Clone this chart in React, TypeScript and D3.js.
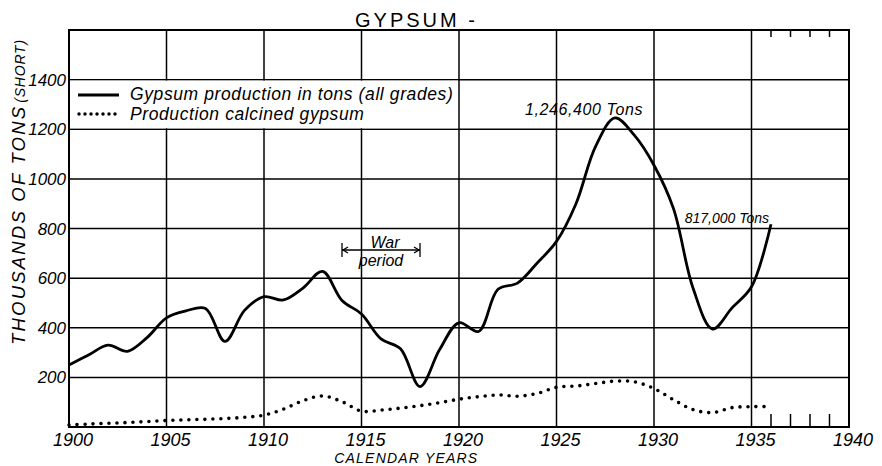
import { useMemo } from "react";
import { scaleLinear, line, curveCatmullRom } from "d3";

const years = [
  1900, 1901, 1902, 1903, 1904, 1905, 1906, 1907, 1908, 1909,
  1910, 1911, 1912, 1913, 1914, 1915, 1916, 1917, 1918, 1919,
  1920, 1921, 1922, 1923, 1924, 1925, 1926, 1927, 1928, 1929,
  1930, 1931, 1932, 1933, 1934, 1935, 1936,
];

// thousands of short tons, all grades
const totalProduction = [
  250, 290, 330, 305, 360, 440, 468, 478, 345, 470,
  525, 512, 560, 627, 510, 455, 355, 315, 163, 311,
  420, 385, 555, 580, 660, 748, 900, 1130, 1246, 1175,
  1055, 880, 560, 395, 480, 565, 817,
];

const calcined = [
  8, 12, 15, 18, 22, 26, 29, 31, 34, 39,
  48, 72, 106, 125, 102, 64, 68, 76, 86, 98,
  112, 122, 129, 124, 135, 160, 165, 175, 185, 182,
  155, 110, 70, 58, 78, 82, 82,
];

const xTicks = [1900, 1905, 1910, 1915, 1920, 1925, 1930, 1935, 1940];
const yTicks = [200, 400, 600, 800, 1000, 1200, 1400];
const minorTicks = [1936, 1937, 1938, 1939];

const W = 882;
const H = 466;
const margin = { top: 30, right: 33, bottom: 39, left: 69 };

const FONT = "'Liberation Sans', Arial, sans-serif";

export default function App() {
  const width = W - margin.left - margin.right;
  const height = H - margin.top - margin.bottom;

  const x = useMemo(() => scaleLinear().domain([1900, 1940]).range([0, width]), [width]);
  const y = useMemo(() => scaleLinear().domain([0, 1600]).range([height, 0]), [height]);

  const mkLine = line<number>()
    .x((_, i) => x(years[i]))
    .y((d) => y(d))
    .curve(curveCatmullRom.alpha(0.5));

  const warL = x(1914);
  const warR = x(1918);
  const warY = 220;

  return (
    <svg width={W} height={H} style={{ position: "absolute", left: 0, top: 0, background: "#fff" }}>
      <text x={355} y={27} fontFamily={FONT} fontSize={20} letterSpacing={3}>
        GYPSUM -
      </text>

      <g transform={`translate(${margin.left},${margin.top})`}>
        {/* grid */}
        {xTicks.slice(1, -1).map((t) => (
          <line key={`vx${t}`} x1={x(t)} x2={x(t)} y1={0} y2={height} stroke="#000" strokeWidth={1.5} />
        ))}
        {yTicks.map((t) => (
          <line key={`hy${t}`} x1={0} x2={width} y1={y(t)} y2={y(t)} stroke="#000" strokeWidth={1.5} />
        ))}
        {minorTicks.map((t) => (
          <g key={`m${t}`}>
            <line x1={x(t)} x2={x(t)} y1={0} y2={7} stroke="#000" strokeWidth={1.5} />
            <line x1={x(t)} x2={x(t)} y1={height} y2={height - 13} stroke="#000" strokeWidth={1.5} />
          </g>
        ))}
        <rect x={0} y={0} width={width} height={height} fill="none" stroke="#000" strokeWidth={2} />

        {/* legend */}
        <rect x={1} y={y(1400) + 1} width={x(1920) - 2} height={y(1200) - y(1400) - 2} fill="#fff" />
        <line x1={9} x2={50} y1={65} y2={65} stroke="#000" strokeWidth={3} />
        <text x={61} y={70} fontFamily={FONT} fontStyle="italic" fontSize={17.5} letterSpacing={0.6}>
          Gypsum production in tons (all grades)
        </text>
        <line x1={10} x2={50} y1={84} y2={84} stroke="#000" strokeWidth={3.5} strokeDasharray="0 6" strokeLinecap="round" />
        <text x={61} y={90} fontFamily={FONT} fontStyle="italic" fontSize={17.5} letterSpacing={0.6}>
          Production calcined gypsum
        </text>

        {/* series */}
        <path d={mkLine(totalProduction) ?? ""} fill="none" stroke="#000" strokeWidth={2.8} strokeLinejoin="round" />
        <path
          d={mkLine(calcined) ?? ""}
          fill="none"
          stroke="#000"
          strokeWidth={3.6}
          strokeDasharray="0 8"
          strokeLinecap="round"
        />

        {/* annotations */}
        <text x={456} y={85} fontFamily={FONT} fontStyle="italic" fontSize={16} letterSpacing={0.6}>
          1,246,400 Tons
        </text>
        <text x={x(1936) - 2} y={193} textAnchor="end" fontFamily={FONT} fontStyle="italic" fontSize={14}>
          817,000 Tons
        </text>

        <g stroke="#000" strokeWidth={1.3} fill="none">
          <line x1={warL} x2={warR} y1={warY} y2={warY} />
          <line x1={warL} x2={warL} y1={warY - 7} y2={warY + 7} />
          <line x1={warR} x2={warR} y1={warY - 7} y2={warY + 7} />
          <polyline points={`${warL + 6},${warY - 3} ${warL + 1},${warY} ${warL + 6},${warY + 3}`} />
          <polyline points={`${warR - 6},${warY - 3} ${warR - 1},${warY} ${warR - 6},${warY + 3}`} />
        </g>
        <text x={(warL + warR) / 2 + 4} y={warY - 2} textAnchor="middle" fontFamily={FONT} fontStyle="italic" fontSize={16}>
          War
        </text>
        <text x={(warL + warR) / 2} y={warY + 16} textAnchor="middle" fontFamily={FONT} fontStyle="italic" fontSize={16}>
          period
        </text>

        {/* axes labels */}
        {yTicks.map((t) => (
          <text key={`yl${t}`} x={-3} y={y(t) + 6} textAnchor="end" fontFamily={FONT} fontStyle="italic" fontSize={17}>
            {t}
          </text>
        ))}
        {xTicks.map((t) => (
          <text key={`xl${t}`} x={x(t) + 4} y={height + 19} textAnchor="middle" fontFamily={FONT} fontStyle="italic" fontSize={18}>
            {t}
          </text>
        ))}
        <text x={x(1917.3)} y={height + 36} textAnchor="middle" fontFamily={FONT} fontStyle="italic" fontSize={14} letterSpacing={1.2}>
          CALENDAR YEARS
        </text>
      </g>

      <text
        transform={`translate(25, 345) rotate(-90)`}
        fontFamily={FONT}
        fontStyle="italic"
        fontSize={18.5}
        letterSpacing={2.2}
      >
        THOUSANDS OF TONS
        <tspan fontSize={14} letterSpacing={0.8} dx={2}>(SHORT)</tspan>
      </text>
    </svg>
  );
}
